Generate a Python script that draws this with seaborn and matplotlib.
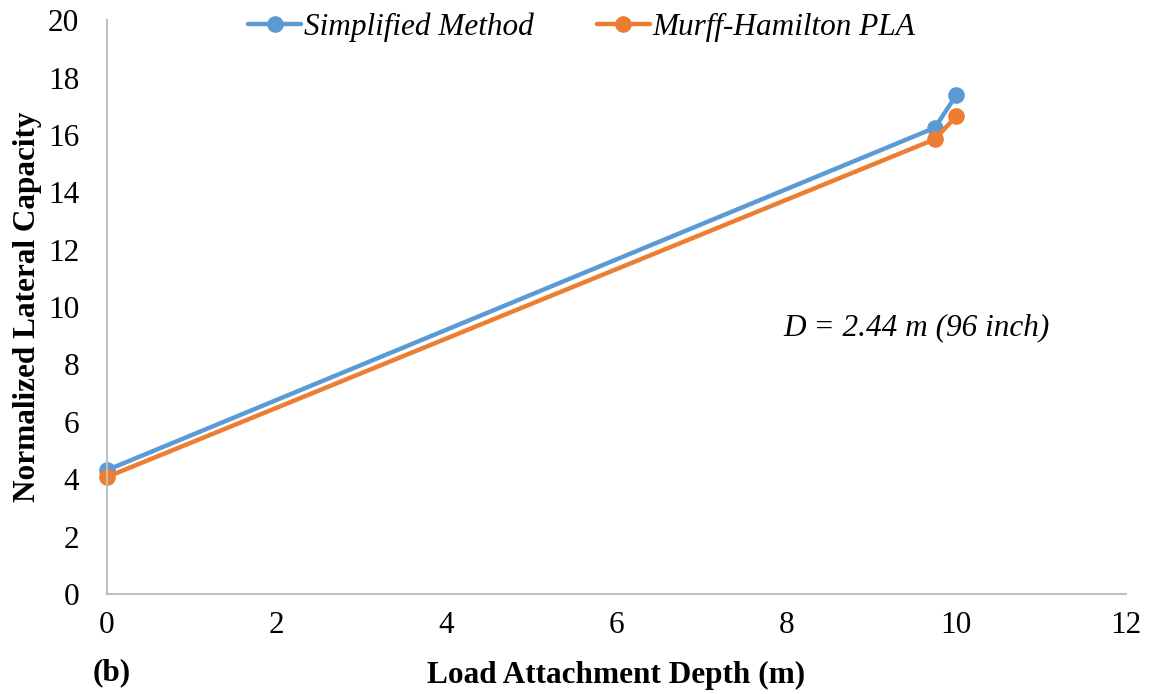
import numpy as np
import pandas as pd
import matplotlib
matplotlib.use('Agg')
import matplotlib.pyplot as plt
import seaborn as sns

# Load attachment depth (m) vs normalized lateral capacity
depth = [0.0, 9.75, 10.0]
simplified = [4.32, 16.25, 17.38]
murff_hamilton = [4.08, 15.85, 16.65]

series_names = ['Simplified Method', 'Murff-Hamilton PLA']
colors = ['#5B9BD5', '#ED7D31']

data = pd.DataFrame({
    'depth': depth * 2,
    'capacity': simplified + murff_hamilton,
    'method': [series_names[0]] * 3 + [series_names[1]] * 3,
})

sns.set_style('white')
plt.rcParams['font.family'] = ['Liberation Serif', 'DejaVu Serif']
plt.rcParams['text.color'] = 'black'
plt.rcParams['axes.labelcolor'] = 'black'
plt.rcParams['xtick.color'] = 'black'
plt.rcParams['ytick.color'] = 'black'

fs = 22.5

fig = plt.figure(figsize=(11.59, 6.94), dpi=100)
ax = fig.add_axes([0.0923, 0.144, 0.8792, 0.827])

sns.lineplot(data=data, x='depth', y='capacity', hue='method', palette=colors,
             marker='o', markersize=12, linewidth=3.2, markeredgewidth=0,
             sort=False, ax=ax)
for ln in ax.lines:
    ln.set_clip_on(False)

ax.set_xlim(0, 12)
ax.set_ylim(0, 20)
ax.set_xticks(np.arange(0, 13, 2))
ax.set_yticks(np.arange(0, 21, 2))
ax.tick_params(axis='x', labelsize=fs, length=0, pad=12)
ax.tick_params(axis='y', labelsize=fs, length=0, pad=20)

for side in ['top', 'right']:
    ax.spines[side].set_visible(False)
for side in ['left', 'bottom']:
    ax.spines[side].set_color('#BFBFBF')
    ax.spines[side].set_linewidth(1.5)

ax.set_xlabel('Load Attachment Depth (m)', fontsize=fs, fontweight='bold', labelpad=15)
ax.set_ylabel('Normalized Lateral Capacity', fontsize=fs, fontweight='bold', labelpad=4)

ax.text(9.53, 9.27, 'D = 2.44 m (96 inch)', fontsize=fs, style='italic',
        ha='center', va='center')
fig.text(0.080, 0.030, '(b)', fontsize=fs, fontweight='bold', ha='left', va='center')

leg = ax.legend(loc='center', bbox_to_anchor=(0.466, 0.988), ncol=2, frameon=False,
                prop={'style': 'italic', 'size': fs}, handlelength=1.7,
                handletextpad=0.1, columnspacing=2.0, borderaxespad=0)

fig.savefig('out.png', dpi=100)
